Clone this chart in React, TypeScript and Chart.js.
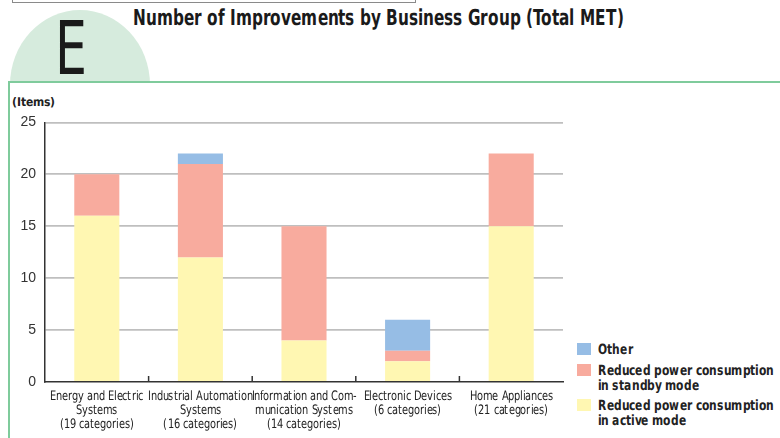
import React, { useEffect, useRef } from "react";
import { Chart, registerables } from "chart.js";

Chart.register(...registerables);

const categories: string[][] = [
  ["Energy and Electric", "Systems", "(19 categories)"],
  ["Industrial Automation", "Systems", "(16 categories)"],
  ["Information and Com-", "munication Systems", "(14 categories)"],
  ["Electronic Devices", "(6 categories)"],
  ["Home Appliances", "(21 categories)"],
];
const activeMode = [16, 12, 4, 2, 15];
const standbyMode = [4, 9, 11, 1, 7];
const other = [0, 1, 0, 3, 0];
const yTicks = [0, 5, 10, 15, 20, 25];

const FONT_CSS = `
@font-face { font-family: "CondX"; font-weight: 400; src: local("Liberation Sans Narrow"), local("LiberationSansNarrow-Regular"), local("DejaVu Sans Condensed"), local("DejaVuSansCondensed"); }
@font-face { font-family: "CondX"; font-weight: 700; src: local("Liberation Sans Narrow Bold"), local("LiberationSansNarrow-Bold"), local("DejaVu Sans Condensed Bold"), local("DejaVuSansCondensed-Bold"); }
`;
const COND = '"CondX", "DejaVu Sans", sans-serif';

// draws category tick marks (pointing up) and horizontally-condensed category labels
const categoryAxis = {
  id: "categoryAxis",
  afterDraw(chart: any) {
    const x = chart.scales.x;
    const y = chart.scales.y;
    const ctx = chart.ctx;
    const y0 = y.getPixelForValue(0);
    ctx.save();
    ctx.strokeStyle = "#333";
    ctx.lineWidth = 1.5;
    for (let i = 1; i < categories.length; i++) {
      const px = (x.getPixelForValue(i - 1) + x.getPixelForValue(i)) / 2;
      ctx.beginPath();
      ctx.moveTo(px, y0);
      ctx.lineTo(px, y0 - 6);
      ctx.stroke();
    }
    ctx.fillStyle = "#222";
    ctx.font = `12.5px ${COND}`;
    ctx.textAlign = "center";
    ctx.textBaseline = "middle";
    const sx = 0.84;
    categories.forEach((lines, i) => {
      const cx = x.getPixelForValue(i);
      lines.forEach((t, j) => {
        ctx.save();
        ctx.translate(cx, y0 + 15 + j * 14);
        ctx.scale(sx, 1);
        ctx.fillText(t, 0, 0);
        ctx.restore();
      });
    });
    ctx.restore();
  },
};

export default function App() {
  const ref = useRef<HTMLCanvasElement>(null);
  useEffect(() => {
    let chart: any = null;
    let cancelled = false;
    const make = () => {
      if (cancelled) return;
      chart = new Chart(ref.current!, {
        type: "bar",
        data: {
          labels: categories,
          datasets: [
            { label: "Reduced power consumption in active mode", data: activeMode, backgroundColor: "#FFF7B2" },
            { label: "Reduced power consumption in standby mode", data: standbyMode, backgroundColor: "#F8AB9E" },
            { label: "Other", data: other, backgroundColor: "#96BDE5" },
          ],
        },
        options: {
          animation: false,
          responsive: false,
          maintainAspectRatio: false,
          datasets: { bar: { barPercentage: 0.435, categoryPercentage: 1 } },
          layout: { padding: { top: 8, right: 7, left: 0, bottom: 0 } },
          plugins: { legend: { display: false }, tooltip: { enabled: false } },
          scales: {
            x: {
              stacked: true,
              grid: { display: false },
              border: { display: true, color: "#333", width: 1.5 },
              ticks: { display: false },
              afterFit(scale: any) {
                scale.height = 56;
              },
            },
            y: {
              stacked: true,
              min: 0,
              max: 25,
              afterBuildTicks(scale: any) {
                scale.ticks = yTicks.map((v) => ({ value: v }));
              },
              grid: {
                color: (c: any) => (c.tick && c.tick.value === 0 ? "rgba(0,0,0,0)" : "#BFBFBF"),
                lineWidth: 1.8,
                drawTicks: false,
              },
              border: { display: true, color: "#333", width: 1.5 },
              ticks: {
                color: "#333",
                font: { family: '"Liberation Sans", Arial, sans-serif', size: 14 },
                padding: 9,
              },
              afterFit(scale: any) {
                scale.width = 45;
              },
            },
          },
        },
        plugins: [categoryAxis],
      });
    };
    const fonts: any = (document as any).fonts;
    Promise.all([fonts.load('12px "CondX"'), fonts.load('bold 12px "CondX"')])
      .catch(() => null)
      .then(() => make());
    return () => {
      cancelled = true;
      if (chart) chart.destroy();
    };
  }, []);

  const legendItem = (color: string, lines: string[], top: number) => (
    <div style={{ position: "absolute", left: 577, top, display: "flex" }}>
      <div style={{ width: 14, height: 12, background: color, marginTop: 1 }} />
      <div style={{ marginLeft: 7, fontFamily: COND, fontWeight: "bold", fontSize: 14, lineHeight: "15px", color: "#222", whiteSpace: "nowrap", transform: "scaleX(0.85)", transformOrigin: "left top" }}>
        {lines.map((l, i) => (
          <div key={i}>{l}</div>
        ))}
      </div>
    </div>
  );

  return (
    <div style={{ position: "fixed", left: 0, top: 0, width: 780, height: 438, background: "#fff", overflow: "hidden" }}>
      <style>{FONT_CSS}</style>
      <div style={{ position: "absolute", left: 12, top: -10, width: 402, height: 11, border: "1px solid #8a8a8a" }} />
      <div style={{ position: "absolute", left: 10, top: 10, width: 140, height: 150, borderRadius: "50%", background: "#D6EBDD" }} />
      <div style={{ position: "absolute", left: 55, top: 11, fontFamily: COND, fontSize: 74, lineHeight: "74px", color: "#1a1a1a", fontWeight: 300, transform: "scaleX(0.76)", transformOrigin: "left top" }}>E</div>
      <div style={{ position: "absolute", left: 133, top: 5, fontFamily: COND, fontWeight: "bold", fontSize: 22, lineHeight: "26px", color: "#1a1a1a", whiteSpace: "nowrap", transform: "scaleX(0.772)", transformOrigin: "left top" }}>
        Number of Improvements by Business Group (Total MET)
      </div>
      <div style={{ position: "absolute", left: 8, top: 81, width: 790, height: 400, border: "2px solid #7FCB9C", background: "#fff" }} />
      <div style={{ position: "absolute", left: 12, top: 95, fontFamily: COND, fontWeight: "bold", fontSize: 12, color: "#222" }}>(Items)</div>
      <canvas ref={ref} width={570} height={333} style={{ position: "absolute", left: 0, top: 105, width: 570, height: 333 }} />
      {legendItem("#96BDE5", ["Other"], 342)}
      {legendItem("#F8AB9E", ["Reduced power consumption", "in standby mode"], 363)}
      {legendItem("#FFF7B2", ["Reduced power consumption", "in active mode"], 398)}
    </div>
  );
}
